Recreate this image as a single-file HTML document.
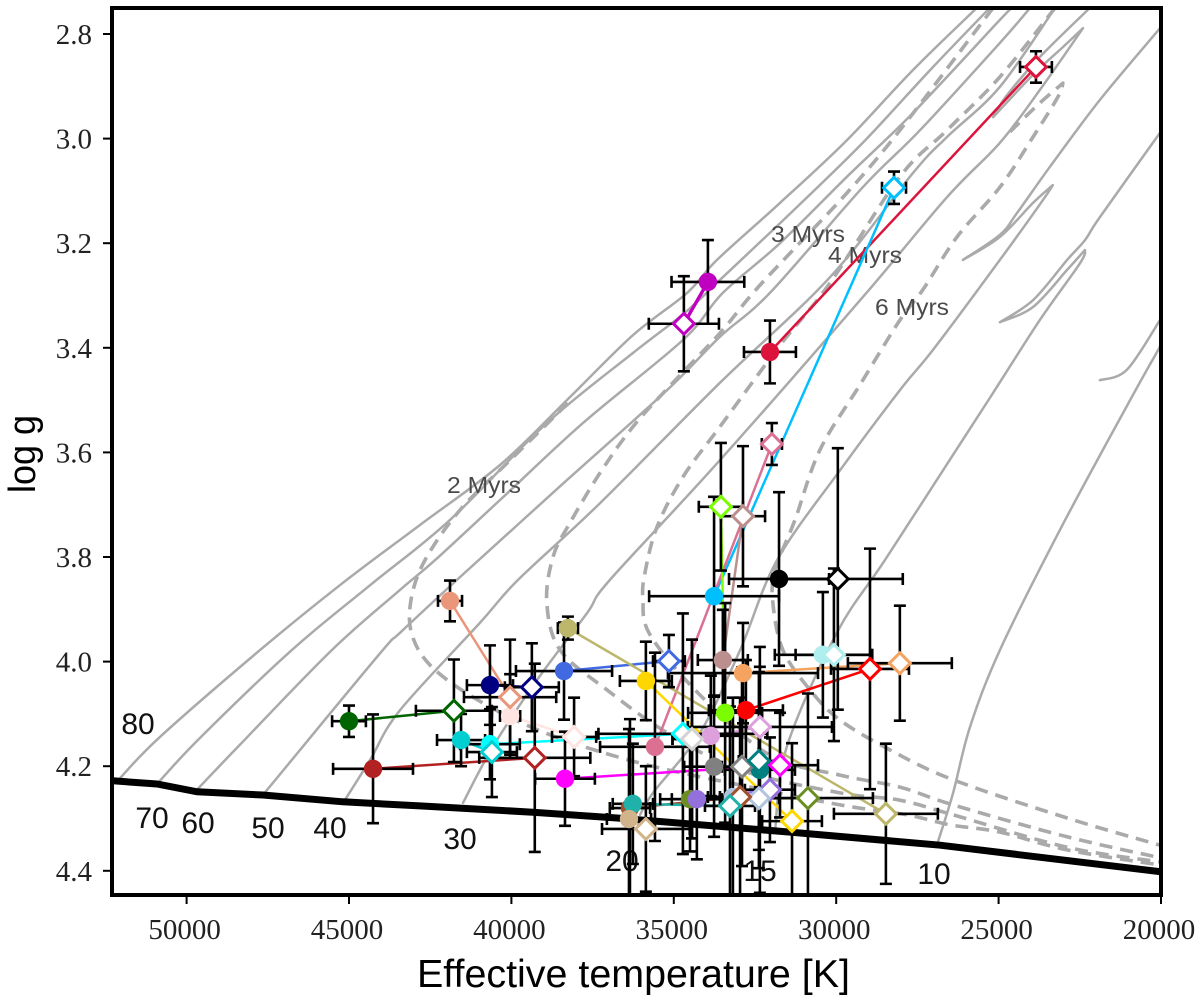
<!DOCTYPE html>
<html lang="en">
<head>
<meta charset="utf-8">
<title>log g versus effective temperature</title>
<style>
html,body{margin:0;padding:0;background:#fff;}
svg{display:block;}
.tick-label{font-family:"Liberation Serif",serif;font-size:29px;fill:#222;}
.axis-title{font-family:"Liberation Sans",sans-serif;fill:#000;}
.mass-label{font-family:"Liberation Sans",sans-serif;font-size:30px;fill:#111;text-anchor:middle;}
.iso-label{font-family:"Liberation Sans",sans-serif;font-size:23px;fill:#4a4a4a;text-anchor:middle;}
</style>
</head>
<body>
<svg id="chart" xmlns="http://www.w3.org/2000/svg" width="1200" height="1004" viewBox="0 0 1200 1004">
  <defs><clipPath id="plot-clip"><rect x="112" y="8" width="1049" height="887"/></clipPath></defs>
  <rect width="1200" height="1004" fill="#fff"/>
  <g id="tracks" clip-path="url(#plot-clip)"></g>
  <g id="isochrones" clip-path="url(#plot-clip)"></g>
  <g id="zams" clip-path="url(#plot-clip)"></g>
  <g>
    <text class="mass-label" x="138" y="734">80</text>
    <text class="mass-label" x="152" y="828">70</text>
    <text class="mass-label" x="198" y="833">60</text>
    <text class="mass-label" x="268" y="838">50</text>
    <text class="mass-label" x="330" y="838">40</text>
    <text class="mass-label" x="460" y="849">30</text>
    <text class="mass-label" x="622" y="871">20</text>
    <text class="mass-label" x="760" y="881">15</text>
    <text class="mass-label" x="934" y="884">10</text>
  </g>
  <g>
    <text class="iso-label" x="484" y="493" textLength="74" lengthAdjust="spacingAndGlyphs">2 Myrs</text>
    <text class="iso-label" x="808" y="242" textLength="74" lengthAdjust="spacingAndGlyphs">3 Myrs</text>
    <text class="iso-label" x="865" y="263" textLength="74" lengthAdjust="spacingAndGlyphs">4 Myrs</text>
    <text class="iso-label" x="912" y="315" textLength="74" lengthAdjust="spacingAndGlyphs">6 Myrs</text>
  </g>
  <g id="links" clip-path="url(#plot-clip)"></g>
  <g id="errors" clip-path="url(#plot-clip)"></g>
  <g id="circles" clip-path="url(#plot-clip)"></g>
  <g id="diamonds" clip-path="url(#plot-clip)"></g>
  <g id="axes"></g>
  <text class="axis-title" x="417" y="987" font-size="39" textLength="433" lengthAdjust="spacingAndGlyphs">Effective temperature [K]</text>
  <text class="axis-title" x="0" y="0" font-size="38" textLength="78" lengthAdjust="spacingAndGlyphs" transform="translate(35 493) rotate(-90)">log g</text>
</svg>
<script>
// Axis tick labels
const xTickValues = [50000, 45000, 40000, 35000, 30000, 25000, 20000];
const yTickValues = ["2.8", "3.0", "3.2", "3.4", "3.6", "3.8", "4.0", "4.2", "4.4"];

// Stellar tracks: [Teff, log g] pairs
const track80 = [[52050,4.223],[50820,4.144],[47740,3.978],[45280,3.854],[42820,3.739],[40350,3.624],[38290,3.500],[36260,3.376],[34590,3.295],[33670,3.232],[31730,3.123],[29670,3.003],[27640,2.869],[25670,2.750]];
const track70 = [[50880,4.232],[49590,4.146],[46760,3.978],[44350,3.854],[41890,3.729],[38910,3.544],[36260,3.410],[34660,3.333],[33490,3.265],[31210,3.131],[29180,3.008],[27110,2.869],[25270,2.750]];
const track60 = [[49680,4.245],[48360,4.159],[45530,3.978],[43430,3.863],[42350,3.806],[40350,3.691],[37800,3.544],[34720,3.385],[33490,3.295],[31730,3.200],[29670,3.073],[27640,2.951],[24960,2.773],[24590,2.750]];
const track50 = [[47650,4.255],[46510,4.169],[43960,3.978],[43430,3.945],[41680,3.844],[38290,3.653],[35210,3.481],[33580,3.379],[32040,3.295],[29180,3.093],[27420,2.984],[24960,2.817],[24030,2.750]];
const track40 = [[45130,4.265],[44350,4.188],[43430,4.093],[40970,3.926],[39800,3.844],[37270,3.697],[33580,3.467],[30190,3.265],[27640,3.066],[26590,2.997],[24960,2.901],[23260,2.750]];
const track30 = [[41490,4.270],[40570,4.163],[39210,4.035],[37670,3.907],[36970,3.844],[33580,3.615],[29180,3.303],[26590,3.112],[24960,3.008],[23730,2.907],[22400,2.789],[23020,2.825],[23940,2.878],[25170,2.959],[24740,2.917],[23730,2.844],[22190,2.750]];
const track20 = [[36040,4.293],[35640,4.251],[34190,4.136],[32960,3.978],[31820,3.806],[29880,3.634],[28040,3.481],[27020,3.404],[24960,3.232],[23630,3.117],[23330,3.089],[23940,3.123],[24960,3.188],[26100,3.232],[24960,3.184],[24430,3.142],[23420,3.054],[21880,2.926],[20030,2.789]];
const track15 = [[31880,4.322],[31520,4.163],[29980,3.945],[28500,3.806],[26500,3.614],[25270,3.496],[23730,3.347],[22490,3.238],[22340,3.213],[22890,3.251],[23940,3.322],[24960,3.351],[23940,3.309],[22890,3.232],[22340,3.194],[21880,3.150],[20030,2.989]];
const track12Hook = [[21880,3.462],[21050,3.442],[20030,3.347]];
const track10 = [[26870,4.345],[26400,4.251],[25880,4.125],[24960,3.978],[23110,3.748],[20950,3.500],[20030,3.398]];

// Isochrones: [Teff, log g] pairs
const iso2 = [[38260,3.506],[40040,3.615],[41580,3.710],[42660,3.806],[43090,3.882],[43060,3.949],[42420,4.012],[40880,4.079],[38810,4.140],[36040,4.194],[32960,4.236],[29880,4.274],[27820,4.293],[26500,4.312],[24960,4.326],[22890,4.360],[20030,4.389]];
const iso3 = [[25170,2.750],[28040,2.984],[29670,3.104],[31330,3.213],[32560,3.295],[33580,3.372],[35030,3.467],[36260,3.551],[37270,3.639],[38200,3.735],[38720,3.800],[38910,3.888],[38500,3.978],[37060,4.054],[35210,4.136],[32960,4.207],[29880,4.251],[28040,4.265],[26400,4.293],[22890,4.355],[20030,4.383]];
const iso4 = [[23260,2.750],[24960,2.882],[26590,2.984],[28040,3.073],[30190,3.276],[31730,3.395],[33580,3.551],[34720,3.647],[35520,3.743],[35890,3.831],[35950,3.880],[35730,3.949],[34190,4.064],[32040,4.179],[29880,4.217],[28040,4.240],[26400,4.274],[22890,4.335],[20030,4.375]];
const iso6 = [[24650,2.987],[23730,2.932],[23020,2.894],[23170,2.920],[23940,2.997],[24960,3.093],[26280,3.188],[27330,3.289],[28040,3.347],[29270,3.471],[30500,3.595],[31270,3.729],[31880,3.825],[31950,3.888],[31640,3.978],[30810,4.054],[29880,4.112],[28340,4.169],[26400,4.226],[22890,4.299],[20030,4.351]];

// Zero-age main sequence
const zamsCurve = [[52270,4.228],[50910,4.234],[49680,4.249],[47650,4.255],[45190,4.268],[42820,4.276],[39340,4.288],[36750,4.299],[31420,4.326],[26800,4.351],[20000,4.402]];

// Stars: spectroscopic (circle) and evolutionary (diamond) values
const starNames = ["crimson","deepskyblue","purple","palevioletred","lawngreen","rosybrown","black","sandybrown","red","paleturquoise","darksalmon","navy","royalblue","darkkhaki","gold","darkgreen","firebrick","darkturquoise","cyan","mistyrose","magenta","plum","gray","teal","olivedrab","mediumpurple","lightsteelblue","sienna","lightseagreen","tan","lightgray"];
const circleTeff = [32040,33760,33950,35580,33420,33490,31760,32870,32780,30410,41890,40660,38380,38260,35860,45000,44260,41550,40660,40040,38350,33860,33760,32350,34500,34290,33180,36350,36260,36380,34440];
const circleLogg = [3.408,3.875,3.274,4.163,4.098,3.997,3.842,4.022,4.093,3.987,3.884,4.045,4.018,3.936,4.037,4.114,4.205,4.150,4.158,4.104,4.224,4.142,4.201,4.207,4.263,4.263,4.259,4.280,4.272,4.301,4.148];
const circleTeffErr = [800,2000,1120,1690,1140,770,1540,2310,1140,1480,370,710,1480,310,800,520,1230,740,920,310,920,920,920,1080,920,770,770,620,620,680,600];
const circleLoggErr = [0.060,0.19,0.08,0.18,0.21,0.096,0.166,0.096,0.096,0.12,0.039,0.076,0.093,0.022,0.075,0.03,0.104,0.05,0.067,0.08,0.09,0.115,0.134,0.235,0.1,0.115,0.19,0.17,0.115,0.172,0.19];
const diamondTeff = [23850,28220,34690,31980,33550,32870,29950,28040,28960,30070,40040,39370,35150,28470,31360,41770,39280,40600,34720,38070,31730,32350,32900,32380,30870,32040,32380,32960,33270,35860,34440];
const diamondLogg = [2.863,3.094,3.354,3.584,3.704,3.722,3.842,4.003,4.014,3.987,4.068,4.049,3.999,4.291,4.305,4.094,4.184,4.173,4.138,4.144,4.198,4.125,4.201,4.190,4.261,4.245,4.261,4.259,4.276,4.320,4.148];
const diamondTeffErr = [490,370,1080,310,680,680,2000,1600,1200,1180,1420,830,490,1600,920,1170,1710,770,2600,680,1170,2220,620,620,2000,770,620,620,770,1350,600];
const diamondLoggErr = [0.030,0.031,0.091,0.04,0.122,0.134,0.25,0.11,0.23,0.165,0.11,0.084,0.05,0.134,0.149,0.098,0.18,0.086,0.23,0.075,0.1,0.115,0.19,0.17,0.2,0.1,0.134,0.19,0.19,0.12,0.19];

// Colour for each star, in the same order as starNames
const starColors = ["#dc143c","#00bfff","#c000c0","#db7093","#7cfc00","#bc8f8f","#000000","#f4a460","#ff0000","#afeeee","#e9967a","#000080","#4169e1","#bdb76b","#ffd700","#006400","#b22222","#00ced1","#00ffff","#ffe4e1","#ff00ff","#dda0dd","#808080","#008080","#6b8e23","#9370db","#b0c4de","#a0522d","#20b2aa","#d2b48c","#d3d3d3"];

const NS = "http://www.w3.org/2000/svg";
const xScale = t => 1161 - (t - 20000) * 0.03248;
const yScale = g => 34 + (g - 2.8) * 523;

function node(parent, tag, attrs) {
  const el = document.createElementNS(NS, tag);
  for (const k in attrs) el.setAttribute(k, attrs[k]);
  parent.appendChild(el);
  return el;
}

// Smooth a run of screen points with Catmull-Rom segments.
function smoothRun(pts) {
  let d = "M" + pts[0][0].toFixed(1) + " " + pts[0][1].toFixed(1);
  for (let i = 0; i < pts.length - 1; i++) {
    const p0 = pts[Math.max(i - 1, 0)], p1 = pts[i], p2 = pts[i + 1], p3 = pts[Math.min(i + 2, pts.length - 1)];
    const c1x = p1[0] + (p2[0] - p0[0]) / 6, c1y = p1[1] + (p2[1] - p0[1]) / 6;
    const c2x = p2[0] - (p3[0] - p1[0]) / 6, c2y = p2[1] - (p3[1] - p1[1]) / 6;
    d += "C" + c1x.toFixed(1) + " " + c1y.toFixed(1) + " " + c2x.toFixed(1) + " " + c2y.toFixed(1) + " " + p2[0].toFixed(1) + " " + p2[1].toFixed(1);
  }
  return d;
}

// Split at direction reversals so hook tips stay sharp, then smooth each run.
function pathOf(curve) {
  const pts = curve.map(p => [xScale(p[0]), yScale(p[1])]);
  let d = "", run = [pts[0]];
  for (let i = 1; i < pts.length; i++) {
    run.push(pts[i]);
    if (i < pts.length - 1) {
      const ax = pts[i][0] - pts[i - 1][0], ay = pts[i][1] - pts[i - 1][1];
      const bx = pts[i + 1][0] - pts[i][0], by = pts[i + 1][1] - pts[i][1];
      if (ax * bx + ay * by < 0) {
        const seg = smoothRun(run);
        d += d ? "L" + seg.slice(seg.indexOf("C") === -1 ? 1 : seg.indexOf("C")).replace(/^L/, "") : seg;
        run = [pts[i]];
      }
    }
  }
  const tail = smoothRun(run);
  d += d ? tail.slice(tail.indexOf("C")) : tail;
  return d;
}

const trackLayer = document.getElementById("tracks");
const trackList = [track80, track70, track60, track50, track40, track30, track20, track15, track12Hook, track10];
trackList.forEach(curve => {
  const el = node(trackLayer, "path", {d: pathOf(curve).replace(/LC/g, "C"), fill: "none", stroke: "#aaaaaa", "stroke-width": 2.5, "stroke-linejoin": "round", "stroke-linecap": "round"});
  
  
});

const isoLayer = document.getElementById("isochrones");
[iso2, iso3, iso4, iso6].forEach(curve => {
  const el = node(isoLayer, "path", {d: pathOf(curve).replace(/LC/g, "C"), fill: "none", stroke: "#aaaaaa", "stroke-width": 3.6, "stroke-dasharray": "13 8", "stroke-linejoin": "round"});
  
  
});

const zamsEl = node(document.getElementById("zams"), "polyline", {points: zamsCurve.map(p => xScale(p[0]).toFixed(1) + "," + yScale(p[1]).toFixed(1)).join(" "), fill: "none", stroke: "#000", "stroke-width": 7});



const linkLayer = document.getElementById("links");
const errLayer = document.getElementById("errors");
const circleLayer = document.getElementById("circles");
const diamondLayer = document.getElementById("diamonds");

function errorBar(t, g, te, ge) {
  const x = xScale(t), y = yScale(g);
  const x0 = xScale(t + te), x1 = xScale(t - te);
  const y0 = yScale(g - ge), y1 = yScale(g + ge);
  const d = "M" + x0 + " " + y + "H" + x1 +
            "M" + x + " " + y0 + "V" + y1 +
            "M" + x0 + " " + (y - 6) + "V" + (y + 6) +
            "M" + x1 + " " + (y - 6) + "V" + (y + 6) +
            "M" + (x - 6) + " " + y0 + "H" + (x + 6) +
            "M" + (x - 6) + " " + y1 + "H" + (x + 6);
  const el = node(errLayer, "path", {d: d, fill: "none", stroke: "#000", "stroke-width": 2.6});
  
  
}

starNames.forEach((name, i) => {
  const color = starColors[i];
  const link = node(linkLayer, "line", {
    x1: xScale(circleTeff[i]), y1: yScale(circleLogg[i]),
    x2: xScale(diamondTeff[i]), y2: yScale(diamondLogg[i]),
    stroke: color, "stroke-width": name === "purple" ? 3.4 : 2.5
  });
  
  

  errorBar(circleTeff[i], circleLogg[i], circleTeffErr[i], circleLoggErr[i]);
  errorBar(diamondTeff[i], diamondLogg[i], diamondTeffErr[i], diamondLoggErr[i]);

  const c = node(circleLayer, "circle", {cx: xScale(circleTeff[i]), cy: yScale(circleLogg[i]), r: 9.2, fill: color});
  
  

  const dx = xScale(diamondTeff[i]), dy = yScale(diamondLogg[i]), s = 10.4;
  const dm = node(diamondLayer, "polygon", {
    points: dx + "," + (dy - s) + " " + (dx + s) + "," + dy + " " + dx + "," + (dy + s) + " " + (dx - s) + "," + dy,
    fill: "#fff", stroke: color, "stroke-width": 3
  });
  
  
});

const axes = document.getElementById("axes");
const frame = node(axes, "rect", {x: 112, y: 8, width: 1049, height: 887, fill: "none", stroke: "#000", "stroke-width": 4});



xTickValues.forEach(v => {
  const x = xScale(v);
  const tick = node(axes, "line", {x1: x, x2: x, y1: 895, y2: 904, stroke: "#000", "stroke-width": 2});
  
  
  const label = node(axes, "text", {x: x - 2, y: 939, "text-anchor": "middle", class: "tick-label"});
  
  
  label.textContent = v;
});
yTickValues.forEach(v => {
  const y = yScale(parseFloat(v));
  const tick = node(axes, "line", {x1: 103, x2: 112, y1: y, y2: y, stroke: "#000", "stroke-width": 2});
  
  
  const label = node(axes, "text", {x: 92, y: y + 10, "text-anchor": "end", class: "tick-label"});
  
  
  label.textContent = v;
});
</script>
</body>
</html>
